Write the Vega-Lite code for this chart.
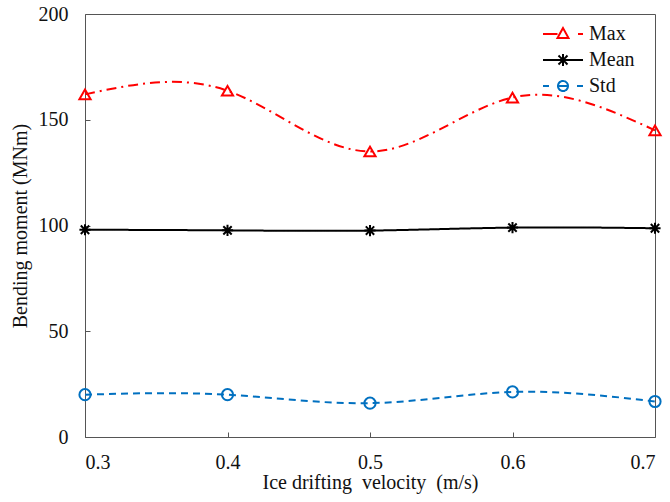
{
  "$schema": "https://vega.github.io/schema/vega-lite/v6.json",
  "width": 570,
  "height": 423,
  "autosize": "none",
  "padding": {"left": 85, "top": 14, "right": 15, "bottom": 65},
  "background": "white",
  "config": {
    "view": {"stroke": "#555555", "strokeWidth": 1},
    "font": "Liberation Serif",
    "axis": {
      "labelFont": "Liberation Serif",
      "titleFont": "Liberation Serif",
      "labelFontSize": 20,
      "titleFontSize": 20,
      "titleFontWeight": "normal",
      "labelColor": "#111111",
      "titleColor": "#111111",
      "domain": false,
      "grid": false,
      "tickColor": "#555555",
      "tickSize": -5
    },
    "legend": {
      "labelFont": "Liberation Serif",
      "labelFontSize": 20,
      "labelColor": "#111111"
    }
  },
  "data": {
    "values": [
      {"v": 0.3, "s": "Max", "y": 162},
      {"v": 0.4, "s": "Max", "y": 163.7},
      {"v": 0.5, "s": "Max", "y": 135},
      {"v": 0.6, "s": "Max", "y": 160.5},
      {"v": 0.7, "s": "Max", "y": 145},
      {"v": 0.3, "s": "Mean", "y": 98},
      {"v": 0.4, "s": "Mean", "y": 97.7},
      {"v": 0.5, "s": "Mean", "y": 97.6},
      {"v": 0.6, "s": "Mean", "y": 99},
      {"v": 0.7, "s": "Mean", "y": 98.7},
      {"v": 0.3, "s": "Std", "y": 20},
      {"v": 0.4, "s": "Std", "y": 20},
      {"v": 0.5, "s": "Std", "y": 16},
      {"v": 0.6, "s": "Std", "y": 21.3},
      {"v": 0.7, "s": "Std", "y": 16.8}
    ]
  },
  "encoding": {
    "x": {
      "field": "v",
      "type": "quantitative",
      "scale": {"domain": [0.3, 0.7], "nice": false, "zero": false},
      "axis": {"values": [0.3, 0.4, 0.5, 0.6, 0.7], "format": ".1f", "title": "Ice drifting\u00a0 velocity\u00a0 (m/s)", "labelPadding": 20, "titlePadding": 0}
    },
    "y": {
      "field": "y",
      "type": "quantitative",
      "scale": {"domain": [0, 200], "nice": false},
      "axis": {"values": [0, 50, 100, 150, 200], "title": "Bending moment (MNm)", "labelPadding": 22, "titlePadding": 8}
    }
  },
  "layer": [
    {
      "mark": {"type": "line", "interpolate": "natural", "strokeWidth": 2},
      "encoding": {
        "strokeDash": {
          "field": "s",
          "type": "nominal",
          "scale": {"domain": ["Mean", "Max", "Std"], "range": [[1, 0], [10, 5, 2, 5], [7, 5]]},
          "legend": null
        },
        "color": {
          "field": "s",
          "type": "nominal",
          "scale": {"domain": ["Max", "Mean", "Std"], "range": ["#FF0000", "#000000", "#0070C0"]},
          "legend": {
            "title": null,
            "orient": "none",
            "legendX": 468,
            "legendY": 10,
            "padding": 0,
            "symbolSize": 100,
            "labelOffset": 16,
            "rowPadding": 6,
            "encode": {
              "symbols": {
                "update": {
                  "shape": {"signal": "datum.value === 'Max' ? 'M-4,0H-1.1M3,0H4M0,-1.2L1.1,0.8L-1.1,0.8Z' : datum.value === 'Mean' ? 'M-4,0H4M-0.9,-0.9L0.9,0.9M-0.9,0.9L0.9,-0.9M0,-1.2V1.2' : 'M-4,0H-2.8M-1,0H1M2.8,0H4M1,0A1,1 0 1,1 -1,0A1,1 0 1,1 1,0'"},
                  "stroke": {"signal": "datum.value === 'Max' ? '#FF0000' : datum.value === 'Mean' ? '#000000' : '#0070C0'"},
                  "fill": {"value": "transparent"},
                  "strokeWidth": {"value": 2},
                  "strokeDash": {"value": [1, 0]},
                  "opacity": {"value": 1}
                }
              }
            }
          }
        }
      }
    },
    {
      "mark": {"type": "point", "filled": false, "strokeWidth": 2, "opacity": 1, "size": 125},
      "encoding": {
        "stroke": {
          "field": "s",
          "type": "nominal",
          "scale": {"domain": ["Std", "Mean", "Max"], "range": ["#0070C0", "#000000", "#FF0000"]},
          "legend": null
        },
        "shape": {
          "field": "s",
          "type": "nominal",
          "scale": {"domain": ["Max", "Std", "Mean"], "range": ["triangle-up", "circle", "M-1,0H1M-0.75,-0.75L0.75,0.75M-0.75,0.75L0.75,-0.75M0,-1V1"]},
          "legend": null
        }
      }
    }
  ]
}
